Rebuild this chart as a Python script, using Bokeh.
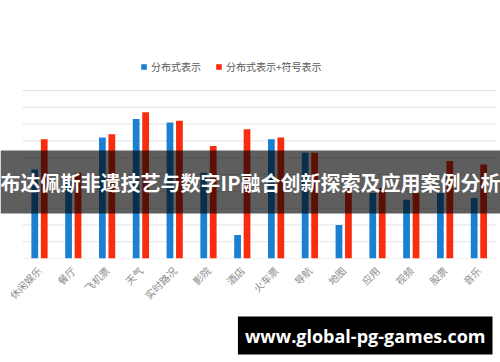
import numpy as np
from bokeh.plotting import figure
from bokeh.models import (Range1d, FixedTicker, BoxAnnotation, Label, Legend, LegendItem, Title)
from bokeh.embed import file_html
from bokeh.resources import INLINE

categories = ["休闲娱乐", "餐厅", "飞机票", "天气", "实时路况", "影院", "酒店",
              "火车票", "导航", "地图", "应用", "视频", "股票", "音乐"]
series_names = ["分布式表示", "分布式表示+符号表示"]
dist_values = [5.3, 4.6, 7.2, 8.3, 8.1, 5.1, 1.4, 7.1, 6.3, 2.0, 3.9, 3.5, 3.9, 3.6]
dist_sym_values = [7.1, 5.1, 7.4, 8.7, 8.2, 6.7, 7.7, 7.2, 6.3, 4.2, 4.2, 3.9, 5.8, 5.6]
grid_values = list(range(0, 11))
banner_text = "布达佩斯非遗技艺与数字IP融合创新探索及应用案例分析"
watermark_text = "www.global-pg-games.com"

BLUE = "#1b80d0"
RED = "#fa2c0e"
CJK = "Noto Sans CJK SC"

W, H = 500, 362
px_per_cat = 33.8
first_center_px = 39.0
frame_h = 258
px_per_unit = 16.8

x = np.arange(len(categories))
x_start = -first_center_px / px_per_cat
x_end = x_start + W / px_per_cat

p = figure(width=W, height=H, output_backend="svg", toolbar_location=None,
           x_range=Range1d(x_start, x_end), y_range=Range1d(0, frame_h / px_per_unit),
           min_border_left=0, min_border_right=0, min_border_top=0,
           min_border_bottom=H - frame_h)
p.outline_line_color = None
p.background_fill_color = "white"
p.border_fill_color = "white"
p.xgrid.visible = False
p.ygrid.visible = False
p.yaxis.visible = False

gx0 = [-0.5] * len(grid_values)
gx1 = [len(categories) - 0.5] * len(grid_values)
p.segment(x0=gx0, x1=gx1, y0=grid_values, y1=grid_values, line_color="#e3e3e3", line_width=1)

off = 0.14
bw = 0.2
r1 = p.vbar(x=x - off, top=dist_values, width=bw, color=BLUE, line_color=None)
r2 = p.vbar(x=x + off, top=dist_sym_values, width=bw, color=RED, line_color=None)

legend = Legend(items=[LegendItem(label=series_names[0], renderers=[r1]),
                       LegendItem(label=series_names[1], renderers=[r2])],
                orientation="horizontal", location=(140, frame_h - 74),
                glyph_width=7, glyph_height=7, label_height=10, label_standoff=4,
                spacing=14, padding=0, margin=0,
                label_text_font=CJK, label_text_font_size="10px",
                label_text_color="#595959", background_fill_alpha=0,
                border_line_color=None)
p.add_layout(legend)

ax = p.xaxis[0]
ax.ticker = FixedTicker(ticks=list(x))
ax.major_label_overrides = {int(i): c for i, c in zip(x, categories)}
ax.major_label_orientation = np.pi / 4
ax.major_label_text_font = CJK
ax.major_label_text_font_size = "10px"
ax.major_label_text_color = "#8a8a8a"
ax.major_label_standoff = 4
ax.major_tick_line_color = None
ax.minor_tick_line_color = None
ax.axis_line_color = None

band_top_px, band_bot_px = 150, 213
p.add_layout(BoxAnnotation(top=(frame_h - band_top_px) / px_per_unit,
                           bottom=(frame_h - band_bot_px) / px_per_unit,
                           fill_color="black", fill_alpha=0.63, line_color=None))
p.add_layout(Label(x=W / 2, x_units="screen", y=(frame_h - 182) / px_per_unit,
                   text=banner_text, text_align="center", text_baseline="middle",
                   text_font=CJK, text_font_style="bold", text_font_size="20px",
                   text_color="white"))

wm = Title(text=watermark_text, align="right", offset=8, standoff=8,
           text_font="Open Sans", text_font_style="bold", text_font_size="18px",
           text_color="white", background_fill_color="black", padding=7)
p.add_layout(wm, "below")

open("out.html", "w").write(file_html(p, INLINE))
